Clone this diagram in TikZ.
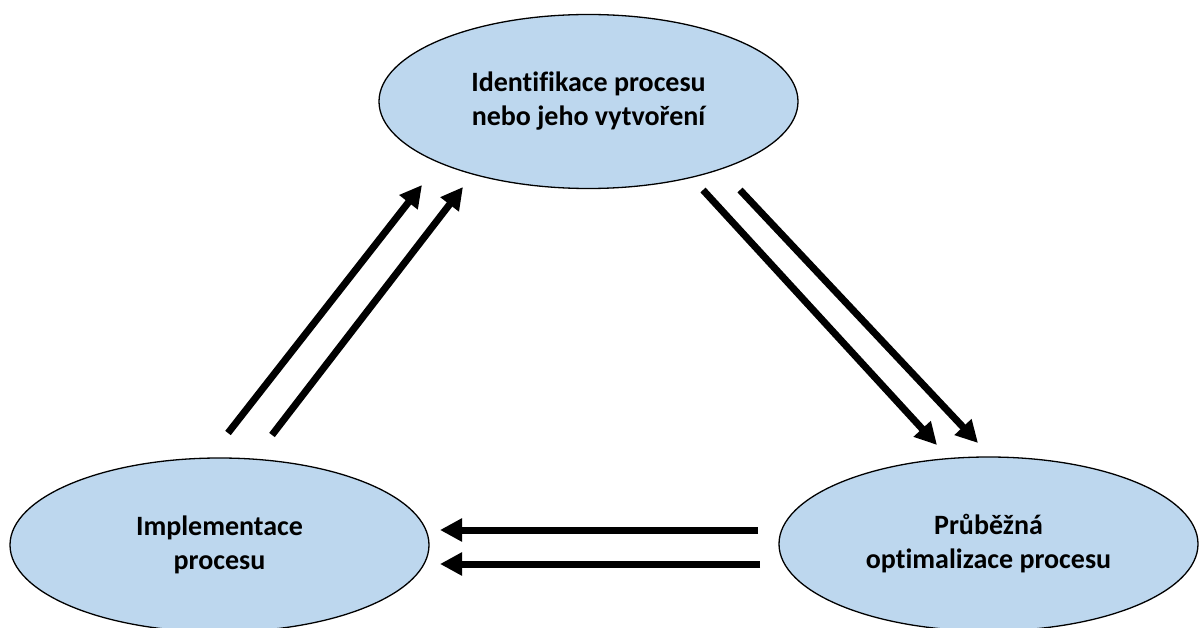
\documentclass[tikz,border=0pt]{standalone}
\usepackage{fontspec}
\setmainfont[Ligatures=NoCommon]{Carlito}
\usetikzlibrary{shapes.geometric,arrows.meta}
\definecolor{bubble}{HTML}{BDD7EE}
\tikzset{
  phase/.style={ellipse, draw=black, line width=1.3pt, fill=bubble,
    minimum width=419pt, minimum height=174pt, inner sep=0pt,
    align=center, font=\fontsize{28}{34}\selectfont\bfseries},
  flow/.style={line width=7pt, -{Triangle[length=22pt,width=22pt]}}
}
\begin{document}
\begin{tikzpicture}[x=1pt,y=-1pt]
\useasboundingbox (0,0) rectangle (1200,628);
\begin{scope}
\clip (0,0) rectangle (1200,628);
\node[phase] (ident) at (588.5,101.5) {Identifikace procesu\\nebo jeho vytvoření};
\node[phase] (impl) at (219.5,545) {Implementace\\procesu};
\node[phase] (optim) at (988.5,544) {Průběžná\\optimalizace procesu};
\end{scope}

% ends of the paired arrows
\coordinate (up1s) at (228,433);  \coordinate (up1e) at (422,185);
\coordinate (up2s) at (272,435);  \coordinate (up2e) at (463,187);
\coordinate (dn1s) at (703,190);  \coordinate (dn1e) at (937,445);
\coordinate (dn2s) at (740,190);  \coordinate (dn2e) at (978,443);
\coordinate (lf1s) at (758,530);  \coordinate (lf1e) at (440,530);
\coordinate (lf2s) at (760,564);  \coordinate (lf2e) at (440,564);

% implementation -> identification
\draw[flow] (up1s) -- (up1e);
\draw[flow] (up2s) -- (up2e);
% identification -> optimisation
\draw[flow] (dn1s) -- (dn1e);
\draw[flow] (dn2s) -- (dn2e);
% optimisation -> implementation
\draw[flow] (lf1s) -- (lf1e);
\draw[flow] (lf2s) -- (lf2e);
\end{tikzpicture}
\end{document}
